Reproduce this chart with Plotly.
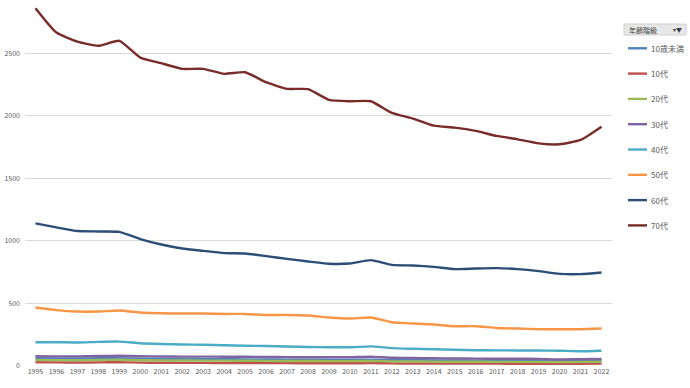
import plotly.graph_objects as go

years = list(range(1995, 2023))

series_names = ["10歳未満", "10代", "20代", "30代", "40代", "50代", "60代", "70代"]
series_colors = ["#4F81BD", "#C0504D", "#9BBB59", "#8064A2", "#4BACC6", "#F79646", "#2C4D75", "#772C2A"]

v_under10 = [62, 61, 60, 62, 63, 59, 57, 56, 55, 54, 53, 52, 51, 50, 49, 49, 51, 47, 46, 45, 44, 43, 42, 42, 41, 40, 41, 42]
v_10s = [30, 29, 28, 29, 30, 27, 26, 25, 25, 24, 24, 23, 23, 22, 22, 22, 23, 21, 20, 20, 19, 19, 19, 18, 18, 18, 18, 19]
v_20s = [48, 47, 46, 48, 50, 46, 45, 44, 43, 43, 42, 41, 40, 40, 39, 39, 41, 37, 36, 35, 34, 34, 33, 33, 33, 32, 33, 34]
v_30s = [78, 77, 77, 80, 82, 78, 76, 75, 75, 74, 74, 72, 71, 70, 70, 70, 74, 66, 64, 62, 60, 59, 58, 58, 57, 52, 55, 56]
v_40s = [190, 190, 188, 193, 195, 182, 176, 172, 170, 166, 162, 160, 156, 152, 150, 150, 157, 143, 138, 134, 130, 126, 125, 124, 124, 122, 118, 122]
v_50s = [467, 446, 435, 435, 443, 427, 421, 419, 419, 416, 416, 408, 408, 403, 387, 379, 387, 350, 339, 331, 318, 318, 304, 299, 294, 294, 294, 299]
v_60s = [1139, 1107, 1078, 1075, 1072, 1014, 971, 939, 920, 902, 899, 878, 856, 835, 817, 819, 846, 808, 803, 792, 774, 779, 782, 774, 758, 736, 734, 747]
v_70s = [2859, 2664, 2592, 2558, 2598, 2464, 2419, 2374, 2374, 2334, 2347, 2267, 2214, 2212, 2126, 2115, 2115, 2022, 1977, 1920, 1904, 1878, 1838, 1811, 1779, 1771, 1806, 1912]

all_values = [v_under10, v_10s, v_20s, v_30s, v_40s, v_50s, v_60s, v_70s]

y_ticks = [0, 500, 1000, 1500, 2000, 2500]

FONT = "Noto Sans CJK JP, Noto Sans, sans-serif"
TEXT = "#595959"

fig = go.Figure()
for name, color, vals in zip(series_names, series_colors, all_values):
    fig.add_trace(go.Scatter(
        x=years, y=vals, name=name, mode="lines",
        line=dict(color=color, width=2.4, shape="spline", smoothing=0.5),
        showlegend=False,
    ))

W, H = 690, 388
ML, MR, MT, MB = 25, 78, 3, 22
fig.update_layout(
    width=W, height=H,
    margin=dict(l=ML, r=MR, t=MT, b=MB),
    paper_bgcolor="white", plot_bgcolor="white",
    font=dict(family=FONT, size=7, color=TEXT),
    xaxis=dict(
        range=[1994.5, 2022.5], tickmode="array", tickvals=years,
        ticktext=[str(y) for y in years], showgrid=False, zeroline=False,
        showline=False, ticks="", tickfont=dict(size=7, color=TEXT),
    ),
    yaxis=dict(
        range=[0, 2900], tickmode="array", tickvals=y_ticks,
        showgrid=True, gridcolor="#D9D9D9", gridwidth=1, zeroline=False,
        showline=False, ticks="", tickfont=dict(size=7, color=TEXT),
        ticklabelstandoff=4,
    ),
)

# Legend drawn manually (Excel-style); convert pixel positions to paper coords
PW = W - ML - MR
PH = H - MT - MB

def px_x(p):
    return (p - ML) / PW

def px_y(p):
    return 1 - (p - MT) / PH

# title box
fig.add_shape(type="rect", xref="paper", yref="paper",
              x0=px_x(624), x1=px_x(686), y0=px_y(35), y1=px_y(24),
              fillcolor="#E7E7E7", line=dict(color="#D0D0D0", width=1), layer="above")
fig.add_annotation(xref="paper", yref="paper", x=px_x(627), y=px_y(29.5),
                   text="年齢階級", showarrow=False, xanchor="left", yanchor="middle",
                   font=dict(size=7, color="#404040", family=FONT))
fig.add_annotation(xref="paper", yref="paper", x=px_x(684), y=px_y(29.5),
                   text="▾▼", showarrow=False, xanchor="right", yanchor="middle",
                   font=dict(size=6, color="#404040", family=FONT))

for i, (name, color) in enumerate(zip(series_names, series_colors)):
    yy = 48.3 + i * 25.3
    fig.add_shape(type="line", xref="paper", yref="paper",
                  x0=px_x(628), x1=px_x(647), y0=px_y(yy), y1=px_y(yy),
                  line=dict(color=color, width=2.4))
    fig.add_annotation(xref="paper", yref="paper", x=px_x(649), y=px_y(yy),
                       text=name, showarrow=False, xanchor="left", yanchor="middle",
                       font=dict(size=8, color=TEXT, family=FONT))

fig.write_html("out.html", config={"displayModeBar": False},
               post_script="document.body.style.margin='0';document.body.style.padding='0';")
